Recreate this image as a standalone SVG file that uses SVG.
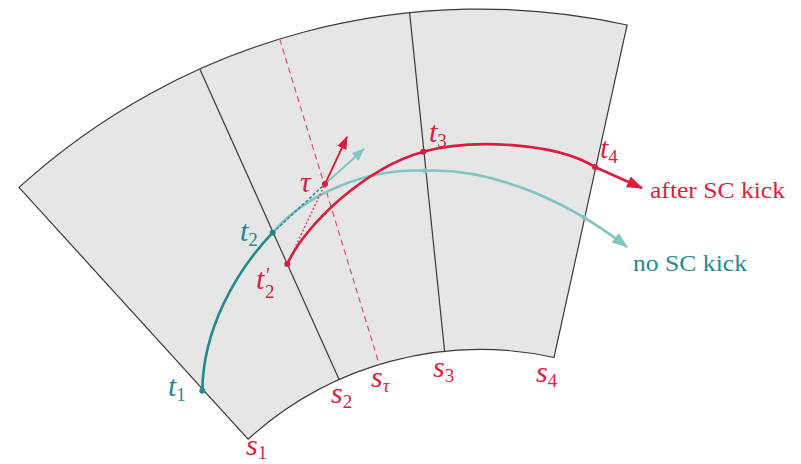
<svg xmlns="http://www.w3.org/2000/svg" width="801" height="464" viewBox="0 0 801 464">
<style>
.edge{fill:none;stroke:#3a3a3a;stroke-width:1.2}
.red{fill:none;stroke:#d81e3f;stroke-width:2.6}
.teal{fill:none;stroke:#26898a;stroke-width:2.6}
.cyan{fill:none;stroke:#80c5c3;stroke-width:2.6}
.m{font-family:"Liberation Serif","DejaVu Serif",serif;font-style:italic;font-size:30px}
.sub{font-style:normal;font-size:19px}
.rt{fill:#d81e3f}
.tt{fill:#26898a}
.lbl{font-family:"Liberation Serif","DejaVu Serif",serif;font-size:23px}
</style>
<defs>
<marker id="ahr" markerUnits="userSpaceOnUse" markerWidth="18" markerHeight="14" refX="15" refY="6" orient="auto" viewBox="0 0 18 12">
<path d="M0,0 L16,6 L0,12 Z" fill="#d81e3f"/>
</marker>
<marker id="ahc" markerUnits="userSpaceOnUse" markerWidth="18" markerHeight="14" refX="15" refY="6" orient="auto" viewBox="0 0 18 12">
<path d="M0,0 L16,6 L0,12 Z" fill="#80c5c3"/>
</marker>
<marker id="ahrs" markerUnits="userSpaceOnUse" markerWidth="14" markerHeight="11" refX="12" refY="5" orient="auto" viewBox="0 0 14 10">
<path d="M0,0 L13,5 L0,10 Z" fill="#d81e3f"/>
</marker>
<marker id="ahcs" markerUnits="userSpaceOnUse" markerWidth="14" markerHeight="11" refX="12" refY="5" orient="auto" viewBox="0 0 14 10">
<path d="M0,0 L13,5 L0,10 Z" fill="#80c5c3"/>
</marker>
</defs>
<g id="sector">
<path d="M19,187.4 A685,685 0 0 1 627.1,25 L554,357.5 A344.5,344.5 0 0 0 248.1,439.2 Z" fill="#e6e6e6" stroke="#3a3a3a" stroke-width="1.2"/>
<line class="edge" x1="199.8" y1="68.9" x2="339.1" y2="379.6"/>
<line class="edge" x1="409.6" y1="12.6" x2="444.6" y2="351.3"/>
<line x1="279.7" y1="38.9" x2="379.3" y2="364.6" stroke="#e0536f" stroke-width="1.2" stroke-dasharray="6,4"/>
</g>
<g id="connectors">
<path class="cyan" d="M272.7,232.7 C305,195 365,168 425,170.7 C485,168 560,195 627,247" marker-end="url(#ahc)"/>
<path class="teal" d="M202.3,390.7 C203,330 235,272 272.7,232.7"/>
<line x1="272.7" y1="232.7" x2="325" y2="184" stroke="#2e9090" stroke-width="1.6" stroke-dasharray="3,2"/>
<line x1="287.3" y1="264" x2="325" y2="184" stroke="#e0536f" stroke-width="1.6" stroke-dasharray="2,2"/>
<line x1="325" y1="184" x2="364" y2="149" stroke="#80c5c3" stroke-width="1.8" marker-end="url(#ahcs)"/>
<line x1="325" y1="184" x2="347" y2="137" stroke="#d81e3f" stroke-width="1.8" marker-end="url(#ahrs)"/>
<path class="red" d="M287.3,264 C305,225 365,168 423.3,151.7 C470,138.7 555,142 595,167 L642,188" marker-end="url(#ahr)"/>
</g>
<g id="t1"><circle cx="202.3" cy="390.7" r="3" fill="#26898a"/><text class="m tt" x="168" y="396">t<tspan class="sub" dy="5">1</tspan></text></g>
<g id="t2"><circle cx="272.7" cy="232.7" r="3" fill="#26898a"/><text class="m tt" x="240" y="241">t<tspan class="sub" dy="5">2</tspan></text></g>
<g id="t2p"><circle cx="287.3" cy="264" r="3" fill="#d81e3f"/><text class="m rt" x="256" y="289">t<tspan x="266" y="282" style="font-size:20px;font-style:normal">′</tspan><tspan class="sub" x="265" y="298">2</tspan></text></g>
<g id="tau"><circle cx="325" cy="184" r="3" fill="#d81e3f"/><text class="m rt" x="300" y="192" style="font-size:30px">τ</text></g>
<g id="t3"><circle cx="423.3" cy="151.7" r="3" fill="#d81e3f"/><text class="m rt" x="429" y="142">t<tspan class="sub" dy="5">3</tspan></text></g>
<g id="t4"><circle cx="595" cy="167" r="3" fill="#d81e3f"/><text class="m rt" x="600" y="158">t<tspan class="sub" dy="5">4</tspan></text></g>
<g id="c3"><circle cx="425" cy="170.7" r="2.5" fill="#80c5c3"/></g>
<g id="c4"><circle cx="584" cy="217.3" r="2.5" fill="#80c5c3"/></g>
<g id="s1"><text class="m rt" x="246" y="455">s<tspan class="sub" dy="4">1</tspan></text></g>
<g id="s2"><text class="m rt" x="331" y="403">s<tspan class="sub" dy="5">2</tspan></text></g>
<g id="stau"><text class="m rt" x="371" y="387">s<tspan class="sub" dy="5" style="font-style:italic">τ</tspan></text></g>
<g id="s3"><text class="m rt" x="433" y="377">s<tspan class="sub" dy="5">3</tspan></text></g>
<g id="s4"><text class="m rt" x="536" y="382">s<tspan class="sub" dy="5">4</tspan></text></g>
<g id="after"><text class="lbl rt" x="650" y="198" textLength="135" lengthAdjust="spacingAndGlyphs">after SC kick</text></g>
<g id="nokick"><text class="lbl tt" x="633" y="271" textLength="114" lengthAdjust="spacingAndGlyphs">no SC kick</text></g>
</svg>
